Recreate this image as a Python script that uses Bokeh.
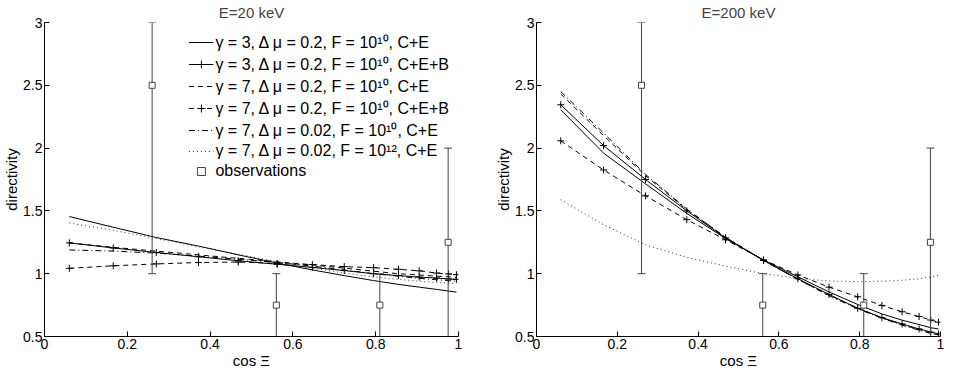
from bokeh.plotting import figure
from bokeh.layouts import row
from bokeh.models import Legend, LegendItem, FixedTicker, NumeralTickFormatter, Range1d
from bokeh.embed import file_html
from bokeh.resources import INLINE

# ---------------- data ----------------
cos_xi = [0.06, 0.166, 0.27, 0.372, 0.468, 0.562, 0.647, 0.724, 0.795, 0.855, 0.905, 0.947, 0.976, 0.995]

# E = 20 keV
e20_g3_ce    = [1.455, 1.37, 1.288, 1.22, 1.15, 1.085, 1.03, 0.985, 0.945, 0.915, 0.893, 0.875, 0.862, 0.853]
e20_g3_ceb   = [1.245, 1.205, 1.169, 1.135, 1.103, 1.075, 1.05, 1.025, 1.0, 0.985, 0.973, 0.965, 0.958, 0.955]
e20_g7_ce    = [1.245, 1.21, 1.18, 1.15, 1.122, 1.095, 1.07, 1.045, 1.02, 1.0, 0.99, 0.98, 0.975, 0.97]
e20_g7_ceb   = [1.043, 1.063, 1.078, 1.089, 1.093, 1.081, 1.073, 1.056, 1.048, 1.035, 1.023, 1.005, 0.998, 0.992]
e20_g7_dm02  = [1.189, 1.18, 1.164, 1.14, 1.115, 1.09, 1.06, 1.03, 1.0, 0.98, 0.963, 0.952, 0.945, 0.94]
e20_g7_f12   = [1.404, 1.345, 1.28, 1.215, 1.155, 1.095, 1.045, 1.005, 0.975, 0.955, 0.94, 0.93, 0.925, 0.92]

# E = 200 keV
e200_g3_ce   = [2.305, 1.96, 1.715, 1.48, 1.28, 1.11, 0.975, 0.855, 0.755, 0.68, 0.63, 0.595, 0.57, 0.56]
e200_g3_ceb  = [2.345, 2.02, 1.75, 1.50, 1.285, 1.105, 0.96, 0.835, 0.725, 0.65, 0.6, 0.56, 0.535, 0.52]
e200_g7_ce   = [2.43, 2.1, 1.78, 1.51, 1.29, 1.105, 0.955, 0.83, 0.725, 0.65, 0.595, 0.555, 0.53, 0.515]
e200_g7_ceb  = [2.058, 1.826, 1.62, 1.43, 1.27, 1.11, 0.99, 0.893, 0.816, 0.747, 0.697, 0.659, 0.631, 0.614]
e200_g7_dm02 = [2.45, 2.12, 1.79, 1.515, 1.29, 1.105, 0.955, 0.825, 0.72, 0.645, 0.59, 0.55, 0.525, 0.51]
e200_g7_f12  = [1.59, 1.39, 1.23, 1.13, 1.06, 1.0, 0.963, 0.942, 0.937, 0.94, 0.948, 0.96, 0.975, 0.987]

# observations
obs_x  = [0.26, 0.56, 0.81, 0.975]
obs_y  = [2.5, 0.75, 0.75, 1.25]
obs_lo = [1.0, 0.5, 0.5, 0.5]
obs_hi = [3.0, 1.0, 1.0, 2.0]

series_labels = [
    "γ = 3, Δ μ = 0.2, F = 10¹⁰, C+E",
    "γ = 3, Δ μ = 0.2, F = 10¹⁰, C+E+B",
    "γ = 7, Δ μ = 0.2, F = 10¹⁰, C+E",
    "γ = 7, Δ μ = 0.2, F = 10¹⁰, C+E+B",
    "γ = 7, Δ μ = 0.02, F = 10¹⁰, C+E",
    "γ = 7, Δ μ = 0.02, F = 10¹², C+E",
]
obs_label = "observations"

titles = ["E=20 keV", "E=200 keV"]
x_ticks = [0, 0.2, 0.4, 0.6, 0.8, 1]
y_ticks = [0.5, 1, 1.5, 2, 2.5, 3]

# ---------------- styling ----------------
FONT = "Liberation Sans"
styles = [
    dict(dash="solid", marker=False, color="black"),
    dict(dash="solid", marker=True, color="black"),
    dict(dash="5 4", marker=False, color="black"),
    dict(dash="5 4", marker=True, color="black"),
    dict(dash="6 3 1 3", marker=False, color="black"),
    dict(dash="1 3", marker=False, color="#333333"),
]


def make_panel(title, series, with_legend, frame_w, border_left, border_right):
    p = figure(frame_width=frame_w, height=371, output_backend="svg", toolbar_location=None,
               x_range=Range1d(0, 1), y_range=Range1d(0.5, 3),
               min_border_left=border_left, min_border_right=border_right,
               min_border_top=0, min_border_bottom=0)
    p.title.text = title
    p.title.align = "center"
    p.title.text_font = FONT
    p.title.text_font_size = "15px"
    p.title.text_font_style = "normal"
    p.title.standoff = 3
    p.outline_line_color = None
    p.grid.visible = False
    p.background_fill_color = "white"
    p.border_fill_color = "white"

    for ax in (p.xaxis, p.yaxis):
        ax.major_tick_in = 5
        ax.major_tick_out = 0
        ax.minor_tick_line_color = None
        ax.axis_line_color = "black"
        ax.major_tick_line_color = "black"
        ax.major_label_text_font = FONT
        ax.major_label_text_font_size = "14px"
        ax.major_label_text_color = "black"
        ax.axis_label_text_font = FONT
        ax.axis_label_text_font_size = "15px"
        ax.axis_label_text_font_style = "normal"
        ax.axis_label_text_color = "black"
        ax.major_label_standoff = 2
        ax.axis_label_standoff = 0
        ax.formatter = NumeralTickFormatter(format="0.[0]")
    p.xaxis.ticker = FixedTicker(ticks=x_ticks)
    p.yaxis.ticker = FixedTicker(ticks=y_ticks)
    p.xaxis.axis_label = "cos Ξ"
    p.yaxis.axis_label = "directivity"

    items = []
    for ys, st, lab in zip(series, styles, series_labels):
        rs = [p.line(cos_xi, ys, line_color=st["color"], line_width=1, line_dash=st["dash"])]
        if st["marker"]:
            rs.append(p.scatter(cos_xi, ys, marker="cross", size=7, line_color="black", line_width=1))
        items.append(LegendItem(label=lab, renderers=rs))

    # observations with error bars
    p.segment(x0=obs_x, y0=obs_lo, x1=obs_x, y1=obs_hi, line_color="#444444", line_width=1)
    p.scatter(obs_x, obs_lo, marker="dash", size=8, line_color="#444444", line_width=1)
    p.scatter(obs_x, obs_hi, marker="dash", size=8, line_color="#444444", line_width=1)
    obs_r = p.scatter(obs_x, obs_y, marker="square", size=6, fill_color="white",
                      line_color="#444444", line_width=1)
    items.append(LegendItem(label=obs_label, renderers=[obs_r]))

    if with_legend:
        leg = Legend(items=items, location="top_right")
        leg.border_line_color = None
        leg.background_fill_alpha = 0
        leg.label_text_font = FONT
        leg.label_text_font_size = "16px"
        leg.label_text_line_height = 1.0
        leg.label_text_color = "black"
        leg.glyph_width = 25
        leg.glyph_height = 20
        leg.label_height = 20
        leg.spacing = 0
        leg.padding = 3
        leg.margin = 9
        leg.label_standoff = 2
        p.add_layout(leg)
    return p


p1 = make_panel(titles[0], [e20_g3_ce, e20_g3_ceb, e20_g7_ce, e20_g7_ceb, e20_g7_dm02, e20_g7_f12],
                True, 414, 34, 20)
p2 = make_panel(titles[1], [e200_g3_ce, e200_g3_ceb, e200_g7_ce, e200_g7_ceb, e200_g7_dm02, e200_g7_f12],
                False, 404, 58, 7)

layout = row(p1, p2)
open("out.html", "w").write(file_html(layout, INLINE))
